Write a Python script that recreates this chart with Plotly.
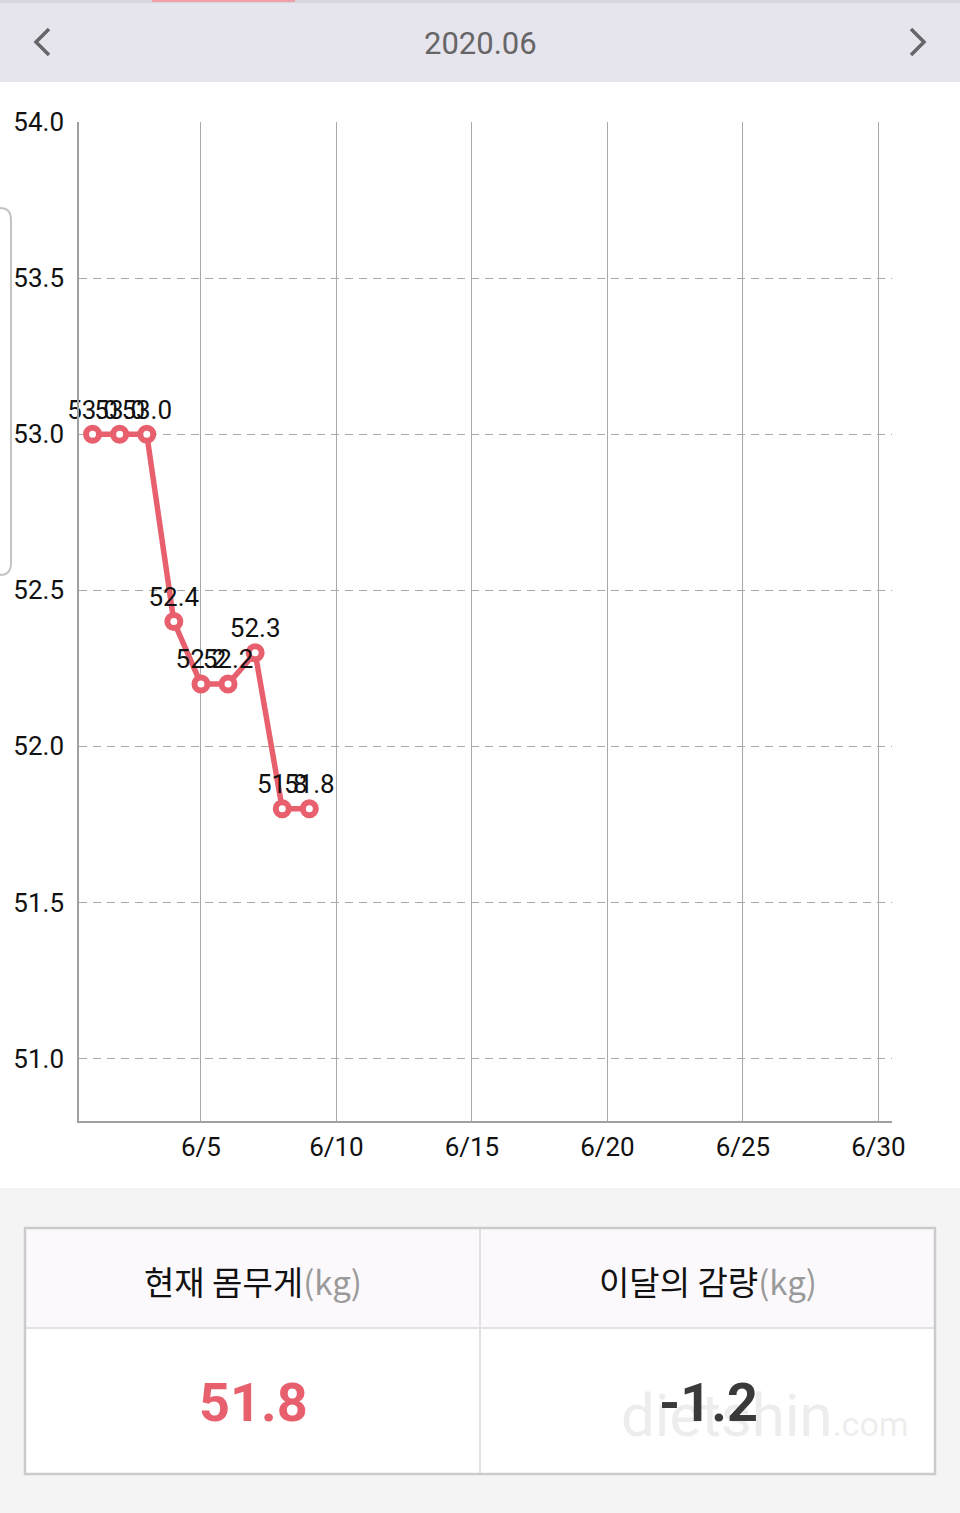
import plotly.graph_objects as go

# ---- data ----
days = [1, 2, 3, 4, 5, 6, 7, 8, 9]
weights = [53.0, 53.0, 53.0, 52.4, 52.2, 52.2, 52.3, 51.8, 51.8]
x_tick_vals = [5, 10, 15, 20, 25, 30]
x_tick_text = ["6/5", "6/10", "6/15", "6/20", "6/25", "6/30"]
y_tick_vals = [51.0, 51.5, 52.0, 52.5, 53.0, 53.5, 54.0]
month_label = "2020.06"
current_weight = "51.8"
monthly_change = "-1.2"

W, H = 960, 1513
def X(px): return px / W
def Y(py): return 1 - py / H

PINK = "#e8606e"
FONT = "Roboto, 'Noto Sans', sans-serif"
KFONT = "'Noto Sans CJK KR', 'Noto Sans', sans-serif"

fig = go.Figure()
fig.add_trace(go.Scatter(
    x=days, y=weights,
    mode="lines+markers+text",
    text=[f"{v:.1f}" for v in weights],
    textposition="top center",
    textfont=dict(size=26, color="#111", family=FONT),
    line=dict(color=PINK, width=5.5),
    marker=dict(size=13, color="white", line=dict(color=PINK, width=6)),
    cliponaxis=False,
    hoverinfo="skip",
))

shapes = []
shapes.append(dict(type="rect", xref="paper", yref="paper", x0=0, x1=1, y0=Y(1188), y1=Y(82),
                   fillcolor="white", line=dict(width=0), layer="below"))
shapes.append(dict(type="rect", xref="paper", yref="paper", x0=0, x1=1, y0=Y(82), y1=1,
                   fillcolor="#e6e4ed", line=dict(width=0), layer="below"))
shapes.append(dict(type="rect", xref="paper", yref="paper", x0=0, x1=1, y0=Y(3), y1=1,
                   fillcolor="#d8d6de", line=dict(width=0), layer="below"))
shapes.append(dict(type="rect", xref="paper", yref="paper", x0=X(152), x1=X(295), y0=Y(2), y1=1,
                   fillcolor="#f0a0a6", line=dict(width=0), layer="below"))
shapes.append(dict(type="path", xref="paper", yref="paper",
                   path=f"M {X(49)} {Y(29)} L {X(36)} {Y(42)} L {X(49)} {Y(55)}",
                   line=dict(color="#666", width=3.5)))
shapes.append(dict(type="path", xref="paper", yref="paper",
                   path=f"M {X(911)} {Y(29)} L {X(924)} {Y(42)} L {X(911)} {Y(55)}",
                   line=dict(color="#666", width=3.5)))
shapes.append(dict(type="path", xref="paper", yref="paper",
                   path=(f"M {X(0)} {Y(208)} Q {X(11)} {Y(208)} {X(11)} {Y(220)} "
                         f"L {X(11)} {Y(563)} Q {X(11)} {Y(575)} {X(0)} {Y(575)}"),
                   line=dict(color="#c4c4c4", width=2)))
shapes.append(dict(type="rect", xref="paper", yref="paper", x0=X(25), x1=X(935), y0=Y(1328), y1=Y(1228),
                   fillcolor="#fcf9fc", line=dict(width=0), layer="below"))
shapes.append(dict(type="rect", xref="paper", yref="paper", x0=X(25), x1=X(935), y0=Y(1474), y1=Y(1328),
                   fillcolor="white", line=dict(width=0), layer="below"))
shapes.append(dict(type="line", xref="paper", yref="paper", x0=X(25), x1=X(935), y0=Y(1328), y1=Y(1328),
                   line=dict(color="#e2e2e4", width=2)))
shapes.append(dict(type="line", xref="paper", yref="paper", x0=X(480), x1=X(480), y0=Y(1474), y1=Y(1228),
                   line=dict(color="#e2e2e4", width=2)))
shapes.append(dict(type="rect", xref="paper", yref="paper", x0=X(25), x1=X(935), y0=Y(1474), y1=Y(1228),
                   line=dict(color="#cbcbce", width=2.5)))

annotations = [
    dict(text=month_label, x=X(480), y=Y(44), xref="paper", yref="paper", showarrow=False,
         font=dict(size=31, color="#666", family=FONT), xanchor="center", yanchor="middle"),
    dict(text="dietshin<span style='font-size:34px'>.com</span>", x=X(765), y=Y(1415),
         xref="paper", yref="paper", showarrow=False,
         font=dict(size=60, color="rgba(185,185,185,0.25)", family=FONT),
         xanchor="center", yanchor="middle"),
    dict(text="현재 몸무게<span style='color:#9a9a9a'>(kg)</span>", x=X(253), y=Y(1281),
         xref="paper", yref="paper", showarrow=False,
         font=dict(size=33, color="#111", family=KFONT), xanchor="center", yanchor="middle"),
    dict(text="이달의 감량<span style='color:#9a9a9a'>(kg)</span>", x=X(708), y=Y(1281),
         xref="paper", yref="paper", showarrow=False,
         font=dict(size=33, color="#111", family=KFONT), xanchor="center", yanchor="middle"),
    dict(text=f"<b>{current_weight}</b>", x=X(253), y=Y(1402), xref="paper", yref="paper", showarrow=False,
         font=dict(size=54, color=PINK, family=FONT), xanchor="center", yanchor="middle"),
    dict(text=f"<b>{monthly_change}</b>", x=X(708), y=Y(1402), xref="paper", yref="paper", showarrow=False,
         font=dict(size=54, color="#3a3a3a", family=FONT), xanchor="center", yanchor="middle"),
]

fig.update_layout(
    width=W, height=H,
    margin=dict(l=0, r=0, t=0, b=0, autoexpand=False),
    paper_bgcolor="#f4f4f4",
    plot_bgcolor="rgba(0,0,0,0)",
    showlegend=False,
    shapes=shapes,
    annotations=annotations,
    xaxis=dict(domain=[X(79), X(892)], range=[0.5, 30.5], automargin=False,
               tickvals=x_tick_vals, ticktext=x_tick_text,
               showgrid=True, gridcolor="#a8a8a8", gridwidth=1,
               showline=True, linecolor="#a0a0a0", linewidth=1.5,
               zeroline=False, ticks="", ticklabelstandoff=2,
               tickfont=dict(size=26, color="#111", family=FONT), fixedrange=True),
    yaxis=dict(domain=[Y(1121), Y(122)], range=[50.8, 54.0], automargin=False,
               tickvals=y_tick_vals, ticktext=[f"{v:.1f}" for v in y_tick_vals],
               showgrid=True, gridcolor="#a8a8a8", gridwidth=1, griddash="8px,6px",
               showline=True, linecolor="#a0a0a0", linewidth=1.5,
               zeroline=False, ticks="", ticklabelstandoff=8,
               tickfont=dict(size=26, color="#111", family=FONT), fixedrange=True),
)

fig.write_html("out.html", config={"displayModeBar": False},
               post_script="document.body.style.margin='0';document.body.style.overflow='hidden';")
